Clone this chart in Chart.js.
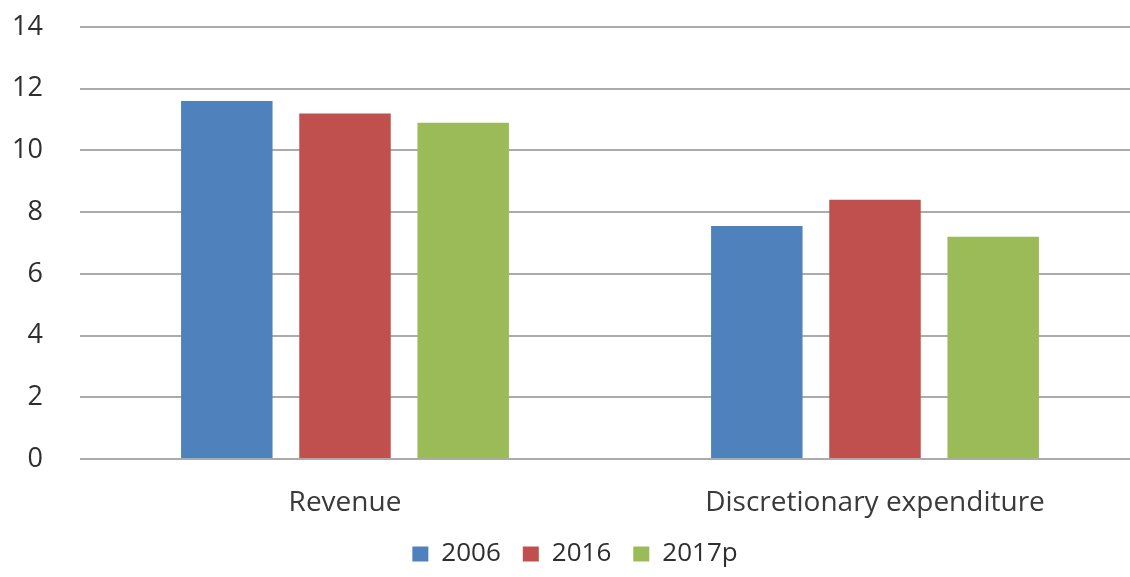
<!DOCTYPE html>
<html lang="en">
<head>
    <meta charset="UTF-8">
    <title>Revenue and discretionary expenditure</title>
    <script src="https://cdn.jsdelivr.net/npm/chart.js"></script>
    <style>
        html, body { margin: 0; padding: 0; background: #fff; overflow: hidden; }
        #wrap { width: 1140px; height: 577px; }
    </style>
</head>
<body>
    <div id="wrap"><canvas id="barChart" width="1140" height="577"></canvas></div>

    <script>
        // data
        const categories = ['Revenue', 'Discretionary expenditure'];
        const seriesNames = ['2006', '2016', '2017p'];
        const values2006 = [11.6, 7.55];
        const values2016 = [11.2, 8.4];
        const values2017p = [10.9, 7.2];
        const yTicks = [0, 2, 4, 6, 8, 10, 12, 14];

        const colors = ['#4F81BD', '#C0504D', '#9BBB59'];
        const textColor = '#2e2e2e';
        const font = 'Open Sans';

        const ctx = document.getElementById('barChart').getContext('2d');
        new Chart(ctx, {
            type: 'bar',
            data: {
                labels: categories,
                datasets: [values2006, values2016, values2017p].map((vals, i) => ({
                    label: seriesNames[i],
                    data: vals,
                    backgroundColor: colors[i],
                    borderWidth: 0,
                    categoryPercentage: 0.669,
                    barPercentage: 0.774
                }))
            },
            options: {
                responsive: false,
                animation: false,
                layout: { padding: { top: 27, left: 10, right: 0, bottom: 0 } },
                plugins: {
                    tooltip: { enabled: false },
                    legend: {
                        position: 'bottom',
                        labels: {
                            color: textColor,
                            font: { family: font, size: 26 },
                            boxWidth: 16,
                            boxHeight: 15,
                            padding: 22
                        }
                    }
                },
                scales: {
                    x: {
                        grid: { display: false },
                        border: { display: false },
                        ticks: {
                            color: '#3a3a3a',
                            font: { family: font, size: 28 },
                            padding: 19
                        },
                        afterFit: axis => {
                            axis.height = 60;
                            axis.paddingLeft = 0;
                            axis.paddingRight = 0;
                        }
                    },
                    y: {
                        min: 0,
                        max: 14,
                        afterBuildTicks: axis => { axis.ticks = yTicks.map(v => ({ value: v })); },
                        grid: { color: '#ababab', lineWidth: 2, drawTicks: false },
                        border: { display: false },
                        ticks: {
                            color: textColor,
                            font: { family: font, size: 27 },
                            padding: 37
                        },
                        afterFit: axis => {
                            axis.width = 70;
                            axis.paddingTop = 0;
                            axis.paddingBottom = 0;
                        }
                    }
                }
            }
        });
    </script>
</body>
</html>
